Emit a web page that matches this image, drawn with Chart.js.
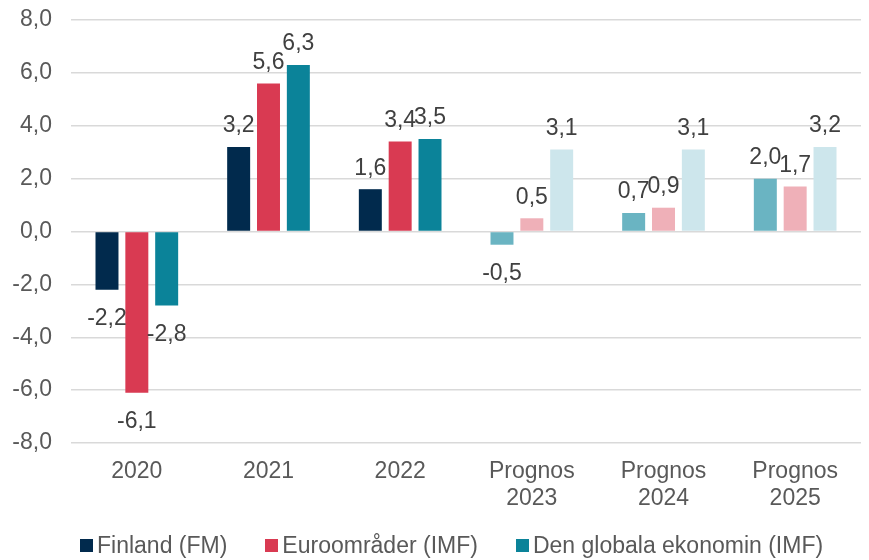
<!DOCTYPE html>
<html>
<head>
<meta charset="utf-8">
<script src="https://cdn.jsdelivr.net/npm/chart.js@4.4.1/dist/chart.umd.min.js"></script>
<style>
    html, body { margin: 0; padding: 0; background: #ffffff; }
    #wrap { position: relative; width: 869px; height: 560px; }
    #legend {
        position: absolute;
        left: 80px;
        top: 532px;
        display: flex;
        align-items: center;
        font-family: "Liberation Sans", Arial, sans-serif;
        font-size: 23px;
        color: #595959;
        white-space: nowrap;
    }
    #legend .item { display: flex; align-items: center; margin-right: 38px; }
    #legend .box { width: 13px; height: 13px; margin-right: 4px; }
</style>
</head>
<body>
<div id="wrap">
    <canvas id="chartBnp"></canvas>
    <div id="legend"></div>
</div>
<script>
// Kategorier och serier (BNP-förändring, %)
const kategorier = ['2020', '2021', '2022', ['Prognos', '2023'], ['Prognos', '2024'], ['Prognos', '2025']];
const serieNamn = ['Finland (FM)', 'Euroområder (IMF)', 'Den globala ekonomin (IMF)'];
const finland = [-2.2, 3.2, 1.6, -0.5, 0.7, 2.0];
const euroomrade = [-6.1, 5.6, 3.4, 0.5, 0.9, 1.7];
const globala = [-2.8, 6.3, 3.5, 3.1, 3.1, 3.2];
const yTicks = [-8, -6, -4, -2, 0, 2, 4, 6, 8];

// Färger: faktiska år vs prognosår
const prognosFran = 3;
const farger = [
    ['#012a4d', '#6ab4c2'],
    ['#d93a52', '#efb0b8'],
    ['#0b8399', '#cde6ec'],
];

const teckensnitt = '"Liberation Sans", Arial, sans-serif';

function fargLista(par) {
    return kategorier.map((k, i) => (i >= prognosFran ? par[1] : par[0]));
}

function formatVarde(v) {
    return v.toFixed(1).replace('.', ',');
}

// Enkel plugin för datatiketter
const etiketter = {
    id: 'etiketter',
    afterDatasetsDraw: function(chart) {
        const ctx = chart.ctx;
        ctx.save();
        ctx.font = '23px ' + teckensnitt;
        ctx.fillStyle = '#404040';
        ctx.textAlign = 'center';
        ctx.textBaseline = 'middle';
        chart.data.datasets.forEach((ds, di) => {
            const meta = chart.getDatasetMeta(di);
            meta.data.forEach((bar, i) => {
                const v = ds.data[i];
                const y = v >= 0 ? bar.y - 21 : bar.y + 29;
                ctx.fillText(formatVarde(v), bar.x, y);
            });
        });
        ctx.restore();
    },
};

// Legend som HTML under diagrammet
function renderLegend() {
    const el = document.getElementById('legend');
    el.innerHTML = serieNamn.map((namn, i) => `
        <div class="item"><span class="box" style="background:${farger[i][0]}"></span><span>${namn}</span></div>
    `).join('');
}

renderLegend();

new Chart(document.getElementById('chartBnp'), {
    type: 'bar',
    data: {
        labels: kategorier,
        datasets: [
            { label: serieNamn[0], data: finland, backgroundColor: fargLista(farger[0]) },
            { label: serieNamn[1], data: euroomrade, backgroundColor: fargLista(farger[1]) },
            { label: serieNamn[2], data: globala, backgroundColor: fargLista(farger[2]) },
        ],
    },
    options: {
        responsive: true,
        maintainAspectRatio: false,
        animation: false,
        categoryPercentage: 0.68,
        barPercentage: 0.77,
        layout: {
            padding: { top: 0, right: 8, left: 0, bottom: 47 },
        },
        plugins: {
            legend: { display: false },
            tooltip: { enabled: false },
        },
        scales: {
            x: {
                grid: { display: false },
                border: { display: false },
                afterFit: function(axis) { axis.height = 70; },
                ticks: {
                    font: { family: teckensnitt, size: 23, lineHeight: 1.18 },
                    color: '#595959',
                    maxRotation: 0,
                    autoSkip: false,
                    padding: 7,
                },
            },
            y: {
                min: yTicks[0],
                max: yTicks[yTicks.length - 1],
                afterBuildTicks: function(axis) {
                    axis.ticks = yTicks.map(v => ({ value: v }));
                },
                afterFit: function(axis) {
                    axis.width = 71;
                    axis.paddingTop = 20;
                },
                grid: { color: '#d9d9d9', lineWidth: 1.5, drawTicks: false },
                border: { display: false },
                ticks: {
                    font: { family: teckensnitt, size: 23, lineHeight: 0.6 },
                    color: '#595959',
                    padding: 19,
                    callback: function(v) { return formatVarde(v); },
                },
            },
        },
    },
    plugins: [etiketter],
});
</script>
</body>
</html>
